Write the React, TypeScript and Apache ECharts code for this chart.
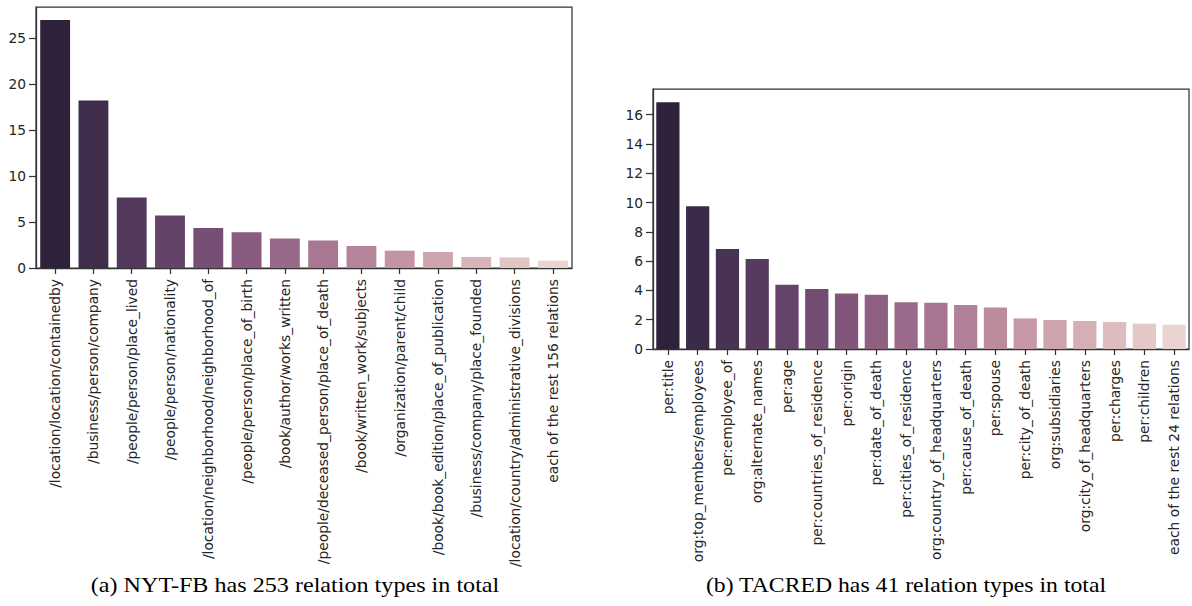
import React, { useEffect, useRef } from "react";
import * as echarts from "echarts";

const nytCategories = [
  "/location/location/containedby",
  "/business/person/company",
  "/people/person/place_lived",
  "/people/person/nationality",
  "/location/neighborhood/neighborhood_of",
  "/people/person/place_of_birth",
  "/book/author/works_written",
  "/people/deceased_person/place_of_death",
  "/book/written_work/subjects",
  "/organization/parent/child",
  "/book/book_edition/place_of_publication",
  "/business/company/place_founded",
  "/location/country/administrative_divisions",
  "each of the rest 156 relations",
];
const nytValues = [26.95, 18.2, 7.65, 5.7, 4.35, 3.88, 3.2, 3.0, 2.4, 1.88, 1.74, 1.2, 1.15, 0.8];
const nytTicks = [0, 5, 10, 15, 20, 25];

const tacredCategories = [
  "per:title",
  "org:top_members/employees",
  "per:employee_of",
  "org:alternate_names",
  "per:age",
  "per:countries_of_residence",
  "per:origin",
  "per:date_of_death",
  "per:cities_of_residence",
  "org:country_of_headquarters",
  "per:cause_of_death",
  "per:spouse",
  "per:city_of_death",
  "org:subsidiaries",
  "org:city_of_headquarters",
  "per:charges",
  "per:children",
  "each of the rest 24 relations",
];
const tacredValues = [16.85, 9.75, 6.82, 6.14, 4.39, 4.09, 3.79, 3.7, 3.2, 3.16, 3.0, 2.84, 2.09, 1.98, 1.91, 1.84, 1.73, 1.66];
const tacredTicks = [0, 2, 4, 6, 8, 10, 12, 14, 16];

const captions = [
  "(a) NYT-FB has 253 relation types in total",
  "(b) TACRED has 41 relation types in total",
];

function hlsToRgb(h: number, l: number, s: number): number[] {
  if (s === 0) return [l, l, l];
  const m2 = l <= 0.5 ? l * (1 + s) : l + s - l * s;
  const m1 = 2 * l - m2;
  const v = (hh: number) => {
    hh = ((hh % 1) + 1) % 1;
    if (hh < 1 / 6) return m1 + (m2 - m1) * hh * 6;
    if (hh < 0.5) return m2;
    if (hh < 2 / 3) return m1 + (m2 - m1) * (2 / 3 - hh) * 6;
    return m1;
  };
  return [v(h + 1 / 3), v(h), v(h - 1 / 3)];
}

function rgbToHls(r: number, g: number, b: number): number[] {
  const maxc = Math.max(r, g, b);
  const minc = Math.min(r, g, b);
  const l = (minc + maxc) / 2;
  if (maxc === minc) return [0, l, 0];
  const s = l <= 0.5 ? (maxc - minc) / (maxc + minc) : (maxc - minc) / (2 - maxc - minc);
  const rc = (maxc - r) / (maxc - minc);
  const gc = (maxc - g) / (maxc - minc);
  const bc = (maxc - b) / (maxc - minc);
  let h;
  if (r === maxc) h = bc - gc;
  else if (g === maxc) h = 2 + rc - bc;
  else h = 4 + gc - rc;
  h = ((h / 6) % 1 + 1) % 1;
  return [h, l, s];
}

function cubehelixPalette(n: number): string[] {
  const gamma = 1, start = 0, rot = 0.4, hue = 0.8;
  const ch = (p0: number, p1: number, x: number) => {
    const xg = Math.pow(x, gamma);
    const a = (hue * xg * (1 - xg)) / 2;
    const phi = 2 * Math.PI * (start / 3 + rot * x);
    return Math.min(1, Math.max(0, xg + a * (p0 * Math.cos(phi) + p1 * Math.sin(phi))));
  };
  const out: string[] = [];
  for (let i = 0; i < n; i++) {
    const x = 0.15 + (0.7 * i) / (n - 1);
    const r = ch(-0.14861, 1.78277, x);
    const g = ch(-0.29227, -0.90649, x);
    const b = ch(1.97294, 0.0, x);
    const [hh, ll, ss] = rgbToHls(r, g, b);
    const [r2, g2, b2] = hlsToRgb(hh, ll, ss * 0.75);
    const hex = (c: number) => Math.round(c * 255).toString(16).padStart(2, "0");
    out.push("#" + hex(r2) + hex(g2) + hex(b2));
  }
  return out;
}

const TEXT = "#262626";
const SPINE = "#333333";
const FONT = "DejaVu Sans";

export default function App() {
  const ref = useRef<HTMLDivElement>(null);
  useEffect(() => {
    if (!ref.current) return;
    const chart = echarts.init(ref.current, undefined, { renderer: "svg" });
    const pal1 = cubehelixPalette(nytValues.length);
    const pal2 = cubehelixPalette(tacredValues.length);

    const xAxisBase = (gridIndex: number, data: string[]) => ({
      type: "category",
      gridIndex,
      data,
      boundaryGap: true,
      axisLine: { show: true, lineStyle: { color: SPINE, width: 1.25 } },
      axisTick: { show: true, alignWithLabel: true, length: 6, lineStyle: { color: SPINE, width: 1.25 } },
      axisLabel: { interval: 0, rotate: 90, margin: 11, fontSize: 13.8, color: TEXT, fontFamily: FONT },
      splitLine: { show: false },
    });
    const yAxisBase = (gridIndex: number, max: number, interval: number, ticks: number[]) => ({
      type: "value",
      gridIndex,
      min: 0,
      max,
      interval,
      axisLine: { show: true, lineStyle: { color: SPINE, width: 1.25 } },
      axisTick: { show: true, length: 7, customValues: ticks, lineStyle: { color: SPINE, width: 1.25 } },
      axisLabel: { margin: 10, fontSize: 13.8, color: TEXT, fontFamily: FONT, customValues: ticks },
      splitLine: { show: false },
    });

    const captionStyle = (text: string) => ({
      text,
      fontFamily: "Liberation Serif",
      fontSize: 21,
      fill: "#000",
      textAlign: "center",
      textVerticalAlign: "middle",
    });

    chart.setOption({
      animation: false,
      backgroundColor: "#ffffff",
      grid: [
        { left: 36, top: 7, width: 536, height: 261, show: true, borderColor: SPINE, borderWidth: 1.25, containLabel: false },
        { left: 653, top: 89, width: 536, height: 260, show: true, borderColor: SPINE, borderWidth: 1.25, containLabel: false },
      ],
      xAxis: [xAxisBase(0, nytCategories), xAxisBase(1, tacredCategories)],
      yAxis: [yAxisBase(0, 28.37, 5, nytTicks), yAxisBase(1, 17.75, 2, tacredTicks)],
      series: [
        {
          type: "bar",
          xAxisIndex: 0,
          yAxisIndex: 0,
          barCategoryGap: "22%",
          data: nytValues.map((v, i) => ({ value: v, itemStyle: { color: pal1[i] } })),
        },
        {
          type: "bar",
          xAxisIndex: 1,
          yAxisIndex: 1,
          barCategoryGap: "22%",
          data: tacredValues.map((v, i) => ({ value: v, itemStyle: { color: pal2[i] } })),
        },
      ],
      graphic: [
        { type: "text", x: 295, y: 585, scaleX: 1.15, style: captionStyle(captions[0]) },
        { type: "text", x: 906, y: 585, scaleX: 1.13, style: captionStyle(captions[1]) },
      ],
    });
    return () => chart.dispose();
  }, []);
  return (
    <div
      ref={ref}
      style={{ position: "fixed", left: 0, top: 0, width: 1192, height: 606, background: "#fff" }}
    />
  );
}
